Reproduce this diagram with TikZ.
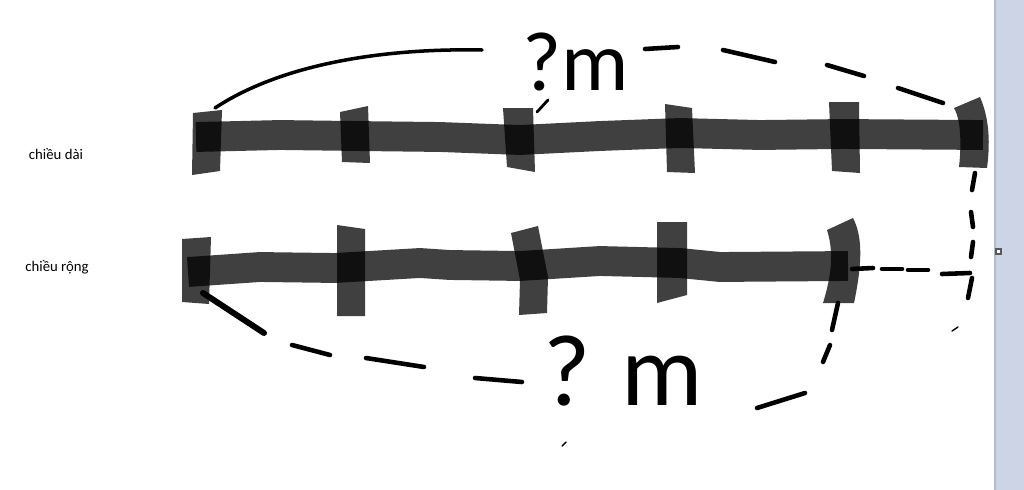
\documentclass[tikz,border=0pt]{standalone}
\usepackage{fontspec}
\setmainfont{Carlito}
\usetikzlibrary{math}
\definecolor{panelblue}{RGB}{204,212,229}
\definecolor{panelline}{RGB}{178,188,208}

\begin{document}
\begin{tikzpicture}[x=0.02cm, y=-0.02cm,
    bar/.style={line width=\BarWidth pt, black, draw opacity=0.75, line join=round},
    tickbox/.style={fill=black, fill opacity=0.75},
    pen/.style={black, line width=2.6pt, line cap=round},
    sidetext/.style={font=\fontsize{8.4}{10}\selectfont, inner sep=0pt},
    handtext/.style={font=\fontsize{48}{48}\selectfont, inner sep=0pt},
]

% Position settings
\tikzmath{
    \BarWidth = 17;
    \PanelX = 995;
}

\useasboundingbox (0,0) rectangle (1024,490);

% Side panel
\fill[panelblue] (\PanelX,0) rectangle (1024,490);
\draw[panelline, line width=1pt] (\PanelX,0) -- (\PanelX,490);
\draw[gray!70!black, fill=white, line width=0.6pt] (996,249) rectangle (1001,254);

% Labels
\node[sidetext] (LenLabel) at (56,154) {chiều dài};
\node[sidetext] (WidLabel) at (57,267) {chiều rộng};

% Top bar
\draw[bar] (196,137) -- (280,135) -- (355,136) -- (440,137) -- (520,140)
    -- (600,136) -- (680,133) -- (760,135) -- (843,134) -- (983,135);

% Top ticks
\fill[tickbox] (193,113) -- (222,110) -- (220,171) -- (192,175) -- cycle;
\fill[tickbox] (340,112) -- (368,106) -- (370,163) -- (342,162) -- cycle;
\fill[tickbox] (503,108) -- (533,108) -- (535,172) -- (507,167) -- cycle;
\fill[tickbox] (665,104) -- (692,108) -- (695,173) -- (667,172) -- cycle;
\fill[tickbox] (829,102) -- (859,102) -- (860,173) -- (832,171) -- cycle;
\fill[tickbox] (954,108) -- (980,97) .. controls (990,120) and (990,145) .. (987,168)
    -- (959,167) .. controls (962,140) and (960,118) .. cycle;

% Bottom bar
\draw[bar] (188,272) -- (260,267) -- (335,268) -- (420,263) -- (450,265)
    -- (520,266) -- (600,261) -- (680,263) -- (720,267) -- (848,266);

% Bottom ticks
\fill[tickbox] (182,239) -- (211,237) -- (209,304) -- (182,302) -- cycle;
\fill[tickbox] (337,225) -- (365,229) -- (365,316) -- (337,316) -- cycle;
\fill[tickbox] (511,233) -- (538,226) -- (548,277) -- (547,313) -- (519,315)
    -- (520,280) -- cycle;
\fill[tickbox] (657,222) -- (687,222) -- (687,295) -- (657,303) -- cycle;
\fill[tickbox] (827,230) -- (853,218) .. controls (862,235) and (863,260) .. (854,303)
    -- (823,303) .. controls (830,280) and (835,255) .. cycle;

% Top measure
\coordinate (T1) at (215,108);
\node[handtext, anchor=base west] (TopQ) at (522,90) {?m};
\draw[pen, line width=2pt] (T1) .. controls (280,65) and (380,48) .. (482,50);
\foreach \xa/\ya/\xb/\yb in {645/49/678/47, 723/50/775/62, 827/65/864/76, 898/88/943/103}
    \draw[pen] (\xa,\ya) -- (\xb,\yb);
\draw[pen, line width=1.6pt] (537,112) -- (548,100);

% Right side dashes
\foreach \xa/\ya/\xb/\yb in {975/173/972/190, 971/212/973/227, 973/242/971/257, 972/278/968/298}
    \draw[pen] (\xa,\ya) -- (\xb,\yb);
\foreach \xa/\ya/\xb/\yb in {852/269/873/268, 882/269/902/269, 908/270/928/270, 942/274/970/273}
    \draw[pen] (\xa,\ya) -- (\xb,\yb);
\draw[pen, line width=0.8pt] (952,331) -- (958,327);

% Bottom measure
\coordinate (B1) at (203,293);
\node[handtext, font=\fontsize{58}{58}\selectfont, anchor=base west] (BotQ) at (543,405) {?\kern0.3em m};
\draw[pen, line width=3.4pt] (B1) -- (264,333);
\foreach \xa/\ya/\xb/\yb in {292/345/330/355, 366/358/424/367, 475/378/522/382,
    757/408/805/393, 823/362/830/345, 832/330/838/303}
    \draw[pen] (\xa,\ya) -- (\xb,\yb);
\draw[pen, line width=0.8pt] (562,446) -- (566,442);

\end{tikzpicture}
\end{document}
